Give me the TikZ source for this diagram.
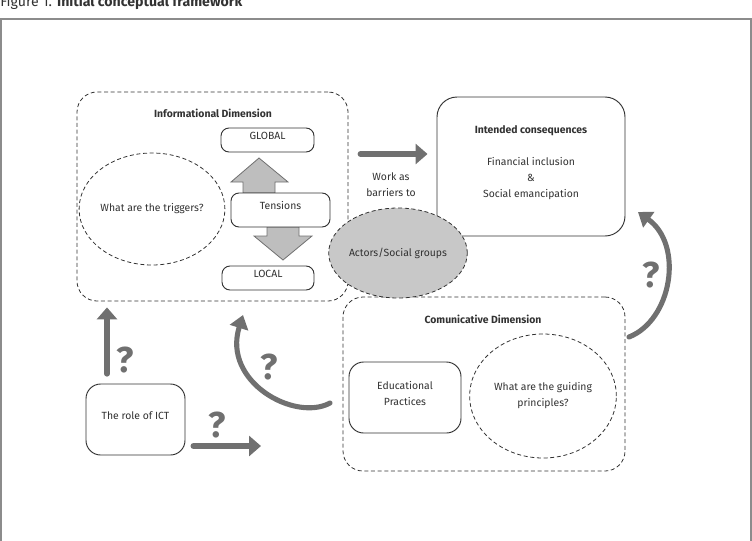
\documentclass[tikz,border=0pt]{standalone}
\usepackage{fontspec}
\setmainfont{Fira Sans}
\usetikzlibrary{arrows.meta,fit,shapes.geometric}

\definecolor{inkgray}{RGB}{50,50,50}
\definecolor{arrowgray}{RGB}{112,112,112}
\definecolor{blockgray}{RGB}{190,190,190}
\definecolor{actorgray}{RGB}{200,200,200}
\definecolor{framegray}{RGB}{140,140,140}

\tikzset{
  dimbox/.style={draw=inkgray, dash pattern=on 3pt off 2pt, rounded corners=15pt, inner sep=0pt, line width=0.6pt},
  solidbox/.style={draw=inkgray, rounded corners=#1, inner sep=0pt, line width=0.7pt, fill=white, align=center},
  solidbox/.default=6pt,
  dashcirc/.style={ellipse, draw=inkgray, dash pattern=on 3pt off 2pt, line width=0.6pt, align=center, inner sep=0pt},
  dimtitle/.style={font=\fontsize{7.8}{12}\selectfont\bfseries},
  blockarrow/.style={fill=blockgray, draw=arrowgray, line width=0.6pt},
  fatarrow/.style={draw=arrowgray, line width=4.2pt, line cap=round, -{Triangle[length=9pt,width=15pt]}},
  bentarrow/.style={draw=arrowgray, line width=3.8pt, line cap=round, -{Triangle[length=10pt,width=14pt]}},
  qmark/.style={text=arrowgray, font=\fontsize{27}{29}\selectfont\bfseries, inner sep=0pt},
}

\begin{document}
\begin{tikzpicture}[x=0.75pt,y=0.75pt,yscale=-1,xscale=1,
  every node/.style={text=inkgray, font=\fontsize{7.8}{12}\selectfont}]
\useasboundingbox (0,0) rectangle (752,540);
\clip (0,0) rectangle (752,540);

%Frame and caption
\draw[framegray, line width=1.5pt] (1,580) -- (1,19) -- (751,19) -- (751,580);
\node[anchor=base west, inner sep=0pt, font=\fontsize{10.6}{12}\selectfont] (caption) at (0,6) {Figure 1. \textbf{Initial conceptual framework}};

%Informational dimension
\node[dimbox, fit={(77,92) (348,301)}] (info) {};
\node[dimtitle] (infotitle) at (213,113) {Informational Dimension};
\node[dashcirc, minimum width=90pt, minimum height=84pt] (triggers) at (152,209) {What are the triggers?};
\node[solidbox, fit={(221,128) (314,152)}] (global) {GLOBAL};
%Block arrows
\draw[blockarrow] (243,193) -- (243,182) -- (231,182) -- (259,158) -- (288,182) -- (275,182) -- (275,193) -- cycle;
\draw[blockarrow] (267,227) -- (267,236) -- (254,236) -- (283,260) -- (312,236) -- (299,236) -- (299,227) -- cycle;
\node[solidbox, fit={(231,193) (330,227)}] (tensions) {Tensions};
\node[solidbox, fit={(222,266) (314,290)}] (local) {LOCAL};

%Intended consequences
\node[solidbox=15pt, fit={(437,97) (625,236)}] (cons) {\textbf{Intended consequences}\\[12pt]Financial inclusion\\\&\\Social emancipation};

%Comunicative dimension
\node[dimbox, fit={(343,297) (625,471)}] (comm) {};
\node[dimtitle] (commtitle) at (483,319) {Comunicative Dimension};
\node[solidbox=11pt, fit={(349,362) (461,433)}] (edu) {Educational\\Practices};
\node[dashcirc, minimum width=110pt, minimum height=93pt] (guide) at (543,396) {What are the guiding\\principles?};

%Actors
\node[dashcirc, fill=actorgray, minimum width=83pt, minimum height=67.5pt] (actors) at (398,253) {Actors/Social groups};

%ICT
\node[solidbox=11pt, fit={(86,384) (185,455)}] (ict) {The role of ICT};

%Arrows
\coordinate (barrier) at (392,154);
\coordinate (upline) at (107,340);
\coordinate (ictend) at (261,446);
\coordinate (leftfrom) at (330,403);
\coordinate (leftto) at (243,315);
\coordinate (rightfrom) at (629,337);
\coordinate (rightto) at (638,212);

\draw[fatarrow, shorten <=9pt, shorten >=6.75pt] (info.east |- barrier) -- (cons.west |- barrier);
\node[align=center] (worklabel) at (391,185) {Work as\\barriers to};
\draw[fatarrow, shorten <=7.3pt, shorten >=4.5pt] (ict.north -| upline) -- (info.south -| upline);
\draw[fatarrow, shorten <=5.9pt] (ict.east |- ictend) -- (ictend);
\draw[bentarrow] (leftfrom) .. controls (295,422) and (222,382) .. (leftto);
\draw[bentarrow] (rightfrom) .. controls (672,320) and (684,245) .. (rightto);

%Question marks
\node[qmark] (q1) at (125,360) {?};
\node[qmark] (q2) at (217,425) {?};
\node[qmark] (q3) at (269,367) {?};
\node[qmark] (q4) at (651,275) {?};

\end{tikzpicture}
\end{document}
